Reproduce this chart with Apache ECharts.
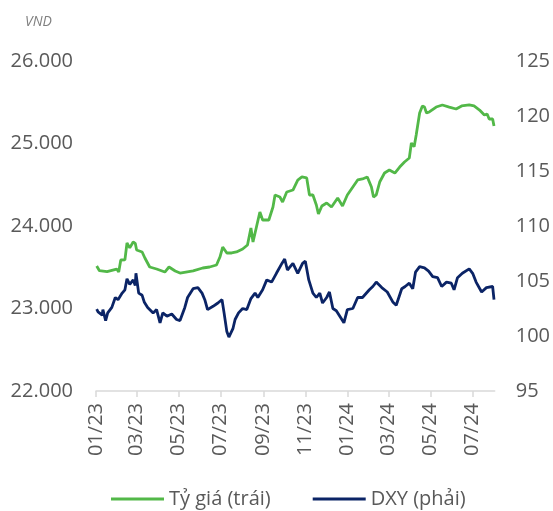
<!DOCTYPE html>
<html>
<head>
<meta charset="utf-8">
<style>
html,body{margin:0;padding:0;background:#fff;}
#chart{width:553px;height:511px;}
</style>
<script src="https://cdn.jsdelivr.net/npm/echarts@6/dist/echarts.min.js"></script>
</head>
<body>
<div id="chart"></div>
<script>
// Exchange rate (VND per USD), left axis
const fxDates = ['2023-01-02','2023-01-06','2023-01-17','2023-01-31','2023-02-03','2023-02-06','2023-02-12','2023-02-15','2023-02-19','2023-02-24','2023-02-27','2023-03-01','2023-03-09','2023-03-13','2023-03-20','2023-03-30','2023-04-11','2023-04-17','2023-04-26','2023-05-03','2023-05-22','2023-06-05','2023-06-15','2023-06-25','2023-06-30','2023-07-04','2023-07-10','2023-07-17','2023-07-24','2023-08-02','2023-08-09','2023-08-14','2023-08-17','2023-08-22','2023-08-27','2023-08-31','2023-09-09','2023-09-15','2023-09-18','2023-09-25','2023-09-29','2023-10-05','2023-10-14','2023-10-21','2023-10-27','2023-11-03','2023-11-07','2023-11-12','2023-11-17','2023-11-20','2023-11-25','2023-12-02','2023-12-09','2023-12-18','2023-12-25','2024-01-01','2024-01-09','2024-01-16','2024-01-23','2024-01-30','2024-02-05','2024-02-08','2024-02-12','2024-02-17','2024-02-24','2024-03-02','2024-03-10','2024-03-17','2024-03-24','2024-03-31','2024-04-03','2024-04-07','2024-04-10','2024-04-15','2024-04-19','2024-04-22','2024-04-25','2024-04-29','2024-05-09','2024-05-18','2024-05-28','2024-06-07','2024-06-15','2024-06-26','2024-07-03','2024-07-11','2024-07-18','2024-07-22','2024-07-25','2024-07-30','2024-08-01'];
const fxValues = [23515,23458,23446,23478,23442,23588,23590,23794,23735,23806,23790,23709,23685,23612,23503,23479,23442,23503,23455,23430,23455,23491,23503,23527,23624,23745,23673,23673,23685,23721,23770,23976,23806,23988,24170,24073,24073,24230,24376,24352,24291,24412,24436,24557,24594,24582,24376,24376,24255,24145,24242,24279,24230,24339,24242,24376,24473,24558,24570,24594,24473,24351,24376,24533,24642,24679,24642,24715,24776,24824,25006,24960,25103,25370,25455,25442,25370,25382,25442,25467,25442,25418,25455,25467,25455,25406,25345,25358,25297,25297,25212];

// DXY index, right axis
const dxyDates = ['2023-01-02','2023-01-04','2023-01-10','2023-01-11','2023-01-15','2023-01-18','2023-01-24','2023-01-29','2023-02-02','2023-02-08','2023-02-12','2023-02-15','2023-02-19','2023-02-24','2023-02-27','2023-02-28','2023-03-04','2023-03-09','2023-03-12','2023-03-17','2023-03-25','2023-03-30','2023-04-04','2023-04-08','2023-04-14','2023-04-21','2023-04-28','2023-05-03','2023-05-10','2023-05-14','2023-05-22','2023-05-29','2023-06-04','2023-06-08','2023-06-12','2023-06-20','2023-06-27','2023-07-03','2023-07-06','2023-07-10','2023-07-13','2023-07-19','2023-07-22','2023-07-27','2023-08-02','2023-08-08','2023-08-14','2023-08-20','2023-08-24','2023-08-31','2023-09-06','2023-09-13','2023-09-20','2023-09-28','2023-10-02','2023-10-06','2023-10-14','2023-10-21','2023-10-28','2023-11-01','2023-11-06','2023-11-12','2023-11-17','2023-11-22','2023-11-26','2023-12-02','2023-12-06','2023-12-11','2023-12-16','2023-12-22','2023-12-27','2024-01-01','2024-01-09','2024-01-16','2024-01-23','2024-02-02','2024-02-07','2024-02-12','2024-02-20','2024-02-28','2024-03-07','2024-03-12','2024-03-20','2024-03-25','2024-03-31','2024-04-05','2024-04-09','2024-04-15','2024-04-22','2024-04-28','2024-05-04','2024-05-11','2024-05-17','2024-05-24','2024-05-31','2024-06-04','2024-06-09','2024-06-16','2024-06-26','2024-07-01','2024-07-06','2024-07-14','2024-07-21','2024-07-30','2024-08-01'];
const dxyValues = [102.45,102.2,101.9,102.4,101.4,102.1,102.6,103.5,103.3,103.9,104.2,105.2,104.7,105.1,104.6,105.7,103.9,103.7,103.1,102.6,102.1,102.4,101.2,102.1,101.8,102.0,101.5,101.4,102.6,103.5,104.3,104.4,103.9,103.3,102.4,102.7,103.0,103.3,102.1,100.4,99.9,100.7,101.5,102.1,102.5,102.4,103.4,103.9,103.5,104.2,105.1,104.9,105.7,106.6,107.0,106.0,106.6,105.7,106.6,106.8,105.1,103.9,103.5,103.9,103.0,103.5,104.0,102.5,102.3,101.7,101.2,102.4,102.5,103.5,103.5,104.2,104.5,104.9,104.4,104.0,103.1,102.8,104.3,104.5,104.8,104.3,105.8,106.3,106.2,105.9,105.4,105.3,104.5,104.9,104.8,104.2,105.3,105.7,106.1,105.7,104.9,104.0,104.4,104.5,103.3];

// Axis ticks and labels
const xTickDates = ['2023-01-01','2023-03-01','2023-05-01','2023-07-01','2023-09-01','2023-11-01','2024-01-01','2024-03-01','2024-05-01','2024-07-01'];
const xMin = '2023-01-01';
const xMax = '2024-08-02';
const leftMin = 22000, leftMax = 26000, leftStep = 1000;
const rightMin = 95, rightMax = 125, rightStep = 5;
const seriesNames = ['Tỷ giá (trái)', 'DXY (phải)'];
const unitLabel = 'VND';

const ts = s => { const p = s.split('-').map(Number); return new Date(p[0], p[1] - 1, p[2]).getTime(); };
const font = '"Open Sans", "Noto Sans", sans-serif';
const grey = '#595959';

const chart = echarts.init(document.getElementById('chart'), null, {renderer: 'canvas'});
chart.setOption({
  animation: false,
  backgroundColor: '#fff',
  textStyle: {fontFamily: font},
  title: {
    text: unitLabel, left: 20, top: 10,
    textStyle: {fontSize: 14, fontStyle: 'italic', fontWeight: 'normal', color: '#7f7f7f', fontFamily: font}
  },
  grid: {left: 96, right: 57, top: 61, bottom: 120, containLabel: false},
  legend: {
    bottom: -3, left: 106,
    icon: 'rect', itemWidth: 53, itemHeight: 3, itemGap: 42,
    textStyle: {fontSize: 20, color: grey, fontFamily: font},
    data: seriesNames
  },
  xAxis: {
    type: 'value',
    min: ts(xMin), max: ts(xMax),
    axisLine: {show: true, lineStyle: {color: '#d9d9d9', width: 1.5}},
    axisTick: {show: true, length: 6, lineStyle: {color: '#d9d9d9', width: 1.5}, customValues: xTickDates.map(ts)},
    axisLabel: {
      rotate: 90, margin: 12, fontSize: 20, color: grey, fontFamily: font,
      customValues: xTickDates.map(ts),
      formatter: v => { const d = new Date(v); return String(d.getMonth()+1).padStart(2,'0') + '/' + String(d.getFullYear()%100).padStart(2,'0'); }
    },
    splitLine: {show: false}
  },
  yAxis: [
    {
      type: 'value', min: leftMin, max: leftMax, interval: leftStep, position: 'left',
      axisLine: {show: false}, axisTick: {show: false}, splitLine: {show: false},
      axisLabel: {fontSize: 20, color: grey, margin: 23, fontFamily: font,
        formatter: v => String(v).replace(/\B(?=(\d{3})+(?!\d))/g, '.')}
    },
    {
      type: 'value', min: rightMin, max: rightMax, interval: rightStep, position: 'right',
      axisLine: {show: false}, axisTick: {show: false}, splitLine: {show: false},
      axisLabel: {fontSize: 20, color: grey, margin: 21, fontFamily: font}
    }
  ],
  series: [
    {
      name: seriesNames[0], type: 'line', yAxisIndex: 0, showSymbol: false,
      lineStyle: {color: '#52b848', width: 2.8}, itemStyle: {color: '#52b848'},
      data: fxDates.map((d, i) => [ts(d), fxValues[i]])
    },
    {
      name: seriesNames[1], type: 'line', yAxisIndex: 1, showSymbol: false,
      lineStyle: {color: '#0b2466', width: 2.8}, itemStyle: {color: '#0b2466'},
      data: dxyDates.map((d, i) => [ts(d), dxyValues[i]])
    }
  ]
});
</script>
</body>
</html>
